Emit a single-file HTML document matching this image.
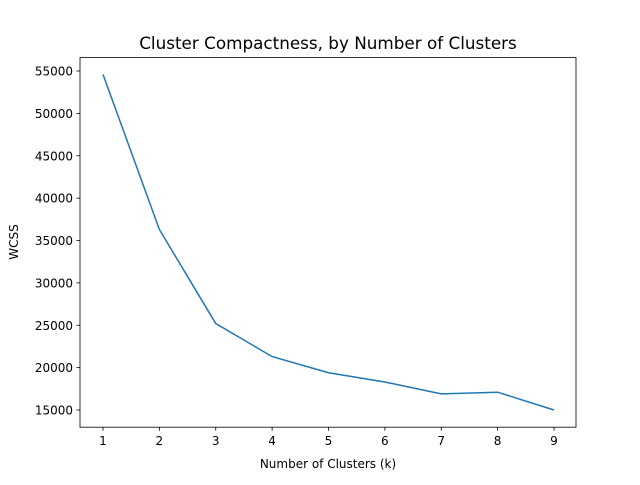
<!DOCTYPE html>
<html><head><meta charset="utf-8"><style>
body{margin:0;background:#fff}
svg text{font-family:"DejaVu Sans","Liberation Sans",sans-serif;fill:#000}
</style></head><body>
<svg width="640" height="480" xmlns="http://www.w3.org/2000/svg">
<rect width="640" height="480" fill="#fff"/>
<text x="328" y="49" font-size="16.8" text-anchor="middle">Cluster Compactness, by Number of Clusters</text>
<g id="xt"></g><g id="yt"></g>
<path id="line" fill="none" stroke="#1f77b4" stroke-width="1.5"/>
<rect x="80" y="57.6" width="496" height="369.6" fill="none" stroke="#000" stroke-width="0.8"/>
<text x="328" y="468" font-size="12" text-anchor="middle">Number of Clusters (k)</text>
<text transform="translate(18,242) rotate(-90)" font-size="12" text-anchor="middle">WCSS</text>
</svg>
<script>
const ks=[1,2,3,4,5,6,7,8,9];
const wcss=[54600,36300,25200,21300,19400,18300,16900,17100,15000];
const yTicks=[15000,20000,25000,30000,35000,40000,45000,50000,55000];
const ns="http://www.w3.org/2000/svg";
const xs=k=>103+(k-1)*(451/8);
const ys=v=>410-(v-15000)*(339/40000);
function mk(t,a,p){const e=document.createElementNS(ns,t);for(const k in a)e.setAttribute(k,a[k]);p.appendChild(e);return e;}
const xt=document.getElementById('xt'),yt=document.getElementById('yt');
ks.forEach(k=>{
 const l=mk('line',{x1:xs(k),x2:xs(k),y1:427.2,y2:430.7,stroke:'#000','stroke-width':0.8},xt);
 
 
 const t=mk('text',{x:xs(k),y:445,'font-size':12,'text-anchor':'middle'},xt);t.textContent=k;
 
 
});
yTicks.forEach(v=>{
 const l=mk('line',{x1:76.5,x2:80,y1:ys(v),y2:ys(v),stroke:'#000','stroke-width':0.8},yt);
 
 
 const t=mk('text',{x:73,y:ys(v)+4.5,'font-size':12,'text-anchor':'end'},yt);t.textContent=v;
 
 
});
document.getElementById('line').setAttribute('d',ks.map((k,i)=>(i?'L':'M')+xs(k)+' '+ys(wcss[i])).join(' '));
</script>
</body></html>
